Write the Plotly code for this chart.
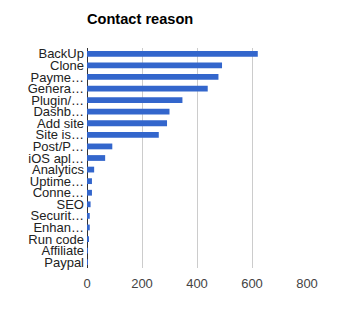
import plotly.graph_objects as go

categories = ["BackUp", "Clone", "Payme…", "Genera…", "Plugin/…", "Dashb…", "Add site",
              "Site is…", "Post/P…", "iOS apl…", "Analytics", "Uptime…", "Conne…", "SEO",
              "Securit…", "Enhan…", "Run code", "Affiliate", "Paypal"]
values = [621, 491, 478, 439, 347, 300, 291, 261, 92, 66, 26, 18, 18, 13, 10, 10, 6, 2, 1]
x_ticks = [0, 200, 400, 600, 800]

fig = go.Figure(go.Bar(
    x=values, y=categories, orientation="h",
    marker=dict(color="#3366cc", line=dict(width=0)),
    width=0.5,
))

fig.update_layout(
    width=355, height=336,
    margin=dict(l=87, r=48, t=48, b=68),
    paper_bgcolor="white", plot_bgcolor="white",
    font=dict(family="Liberation Sans, Arial, sans-serif", size=13, color="#222222"),
    title=dict(text="<b>Contact reason</b>", x=87/355, xanchor="left", y=1-19/336, yanchor="middle",
               font=dict(size=14.6, color="#000000")),
    showlegend=False,
    bargap=0.5,
)
fig.update_xaxes(range=[0, 800], tickvals=x_ticks, showgrid=True, gridcolor="#cccccc",
                 zeroline=True, zerolinecolor="#333333", zerolinewidth=1,
                 tickfont=dict(color="#444444", size=13), ticks="", ticklabelstandoff=6,
                 showline=False, fixedrange=True)
fig.update_yaxes(categoryorder="array", categoryarray=categories, autorange="reversed",
                 tickmode="array", tickvals=categories, ticktext=categories,
                 showgrid=False, ticks="", ticklabelstandoff=2,
                 tickfont=dict(color="#222222", size=13), fixedrange=True)

fig.write_html("out.html")
